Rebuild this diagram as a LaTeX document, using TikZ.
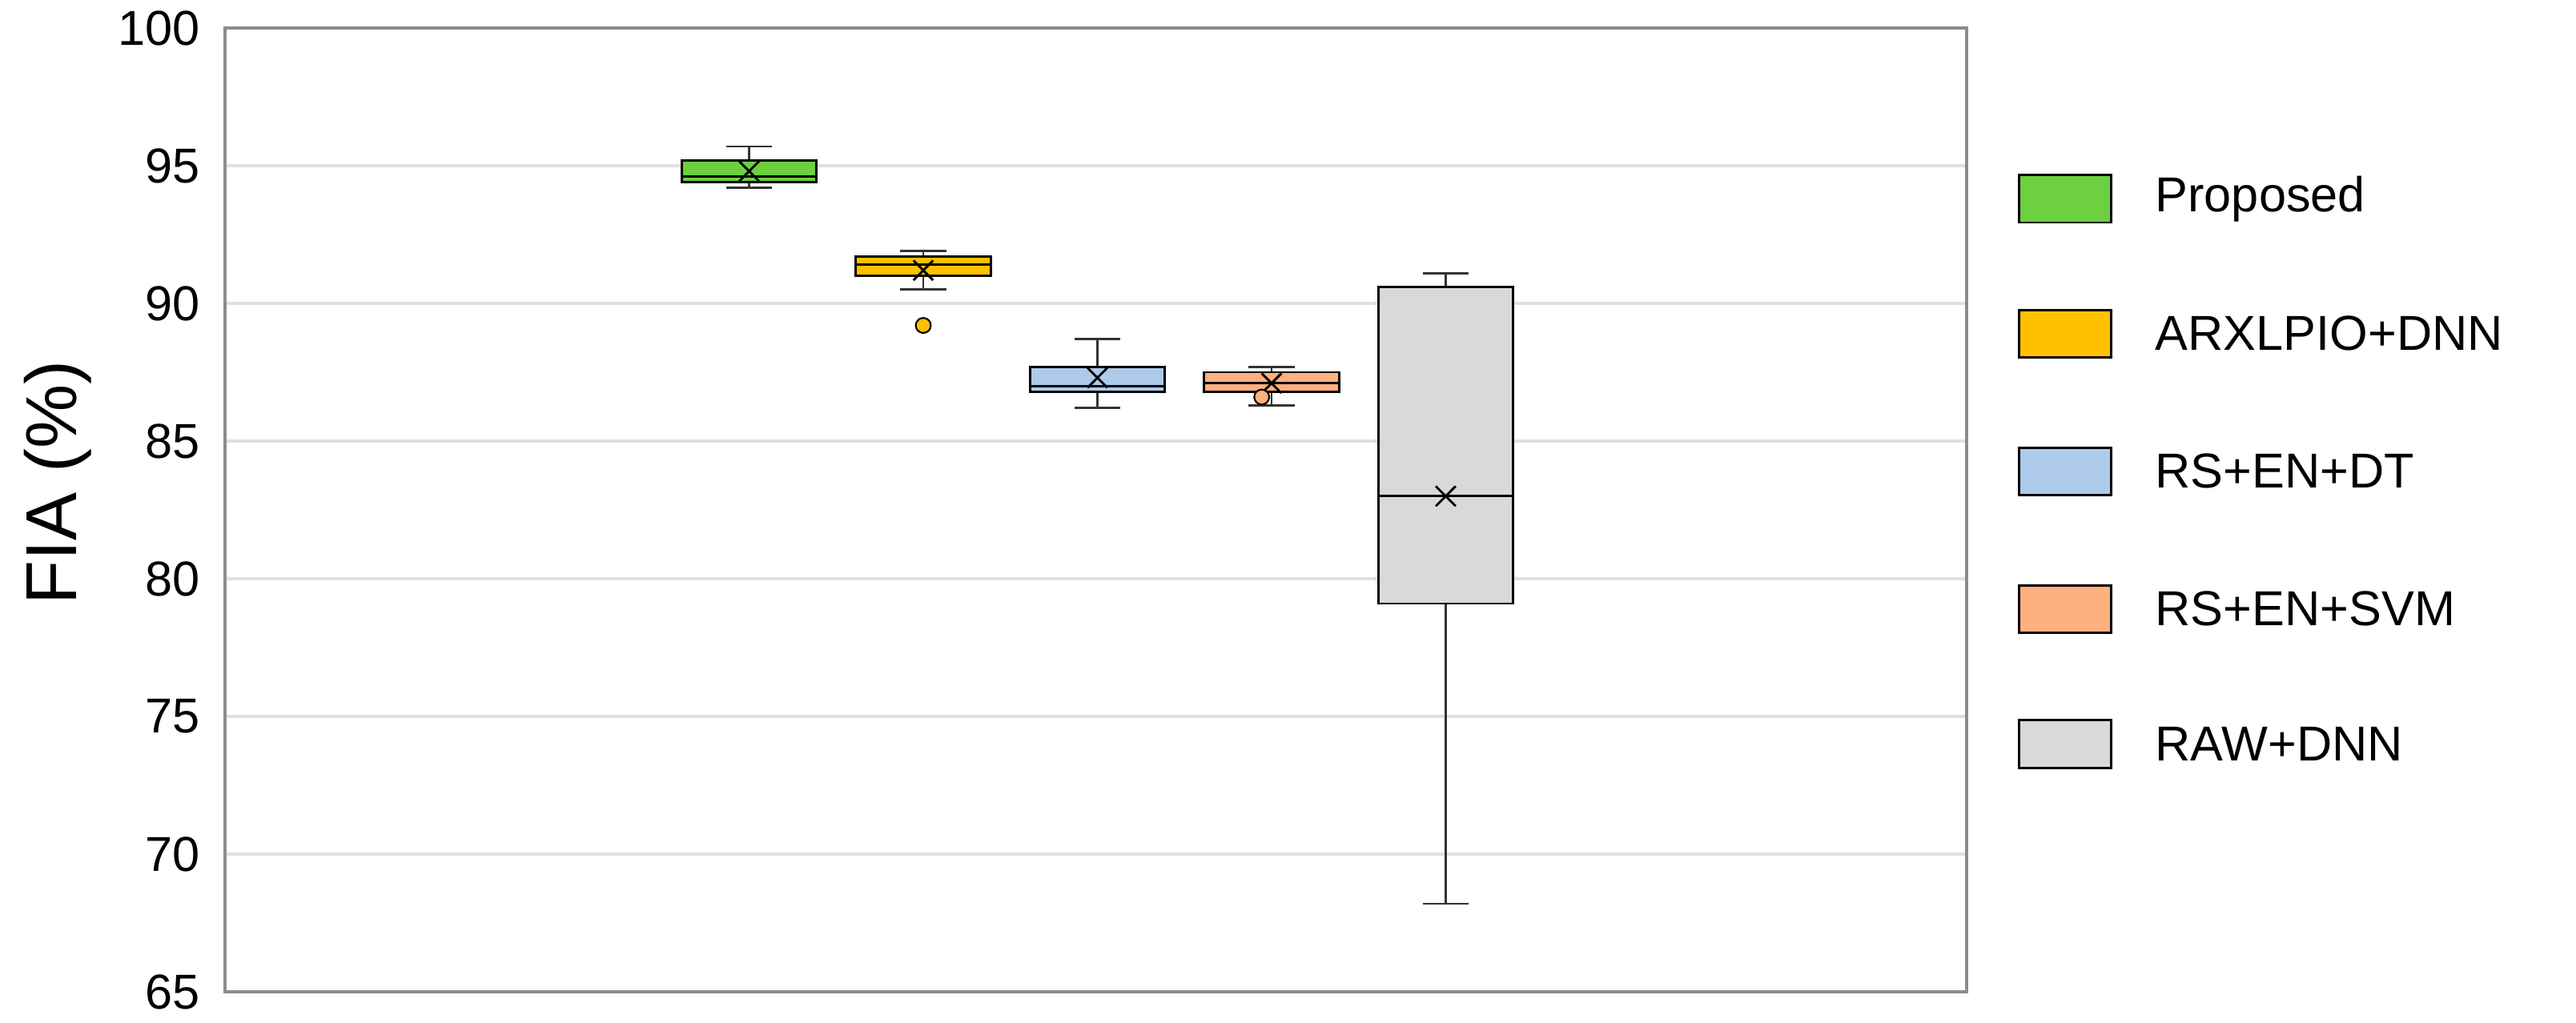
\documentclass[tikz,border=0pt]{standalone}
\usepackage{fontspec}
\setmainfont{Liberation Sans}
\usetikzlibrary{positioning}
\definecolor{cProp}{HTML}{6CD03F}
\definecolor{cArx}{HTML}{FFC000}
\definecolor{cDt}{HTML}{AECAEB}
\definecolor{cSvm}{HTML}{FFB07F}
\definecolor{cRaw}{HTML}{D9D9D9}
\begin{document}
\begin{tikzpicture}[x=0.02cm,y=0.3354cm,
    tick label/.style={anchor=east,font=\fontsize{17}{19}\selectfont},
    legend swatch/.style={draw=black,line width=0.8pt,minimum width=1.12cm,minimum height=0.58cm,inner sep=0pt},
    legend label/.style={right=0.4cm of #1,font=\fontsize{17}{19}\selectfont},
    box/.style={draw=black,line width=0.8pt},
    whisk/.style={black!80,line width=0.8pt}]
    \useasboundingbox (0,63.87) rectangle (1568,101.02);
    % Grid and frame
    \foreach \v in {70,75,...,95}
      \draw[black!12,line width=1pt] (137,\v) -- (1197,\v);
    \draw[black!45,line width=1pt] (137,65) rectangle (1197,100);
    \foreach \v in {65,70,...,100}
      \node[tick label] (t\v) at (128,\v) {\v};
    \node[rotate=90,font=\fontsize{25}{28}\selectfont] (ylab) at (35,83.5) {FIA (\%)};
    % Boxes: center/color/wlow/q1/med/q3/whigh/mean
    \foreach \c/\col/\wl/\qa/\md/\qb/\wh/\mn in {
        456/cProp/94.2/94.4/94.6/95.2/95.7/94.8,
        562/cArx/90.5/91.0/91.4/91.7/91.9/91.2,
        668/cDt/86.2/86.8/87.0/87.7/88.7/87.3,
        774/cSvm/86.3/86.8/87.1/87.5/87.7/87.1,
        880/cRaw/68.2/79.1/83.0/90.6/91.1/83.0}{
      \draw[whisk] (\c,\wl) -- (\c,\qa) (\c,\qb) -- (\c,\wh);
      \draw[whisk] (\c-14,\wl) -- (\c+14,\wl) (\c-14,\wh) -- (\c+14,\wh);
      \filldraw[box,fill=\col] (\c-41,\qa) rectangle (\c+41,\qb);
      \draw[box] (\c-41,\md) -- (\c+41,\md);
      \draw[line width=0.8pt] (\c-6,\mn-0.36) -- (\c+6,\mn+0.36) (\c-6,\mn+0.36) -- (\c+6,\mn-0.36);
    }
    % Outliers
    \filldraw[fill=cArx,line width=0.6pt] (562,89.2) circle[radius=2.6pt];
    \filldraw[fill=cSvm,line width=0.6pt] (768,86.6) circle[radius=2.6pt];
    % Legend
    \node[legend swatch,fill=cProp] (lProp) at (1257,93.8) {};
    \node[legend swatch,fill=cArx] (lArx) at (1257,88.9) {};
    \node[legend swatch,fill=cDt] (lDt) at (1257,83.9) {};
    \node[legend swatch,fill=cSvm] (lSvm) at (1257,78.9) {};
    \node[legend swatch,fill=cRaw] (lRaw) at (1257,74.0) {};
    \node[legend label=lProp] (nProp) {Proposed};
    \node[legend label=lArx] (nArx) {ARXLPIO+DNN};
    \node[legend label=lDt] (nDt) {RS+EN+DT};
    \node[legend label=lSvm] (nSvm) {RS+EN+SVM};
    \node[legend label=lRaw] (nRaw) {RAW+DNN};
\end{tikzpicture}
\end{document}
